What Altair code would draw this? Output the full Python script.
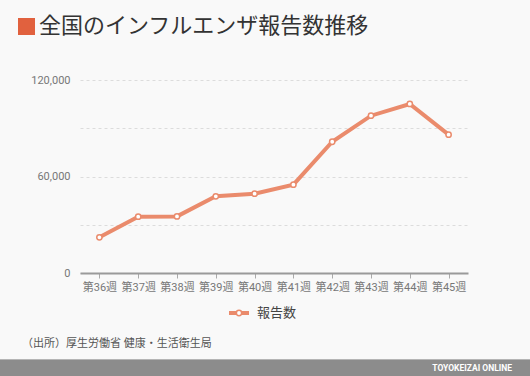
import altair as alt
import pandas as pd

weeks = ["第36週", "第37週", "第38週", "第39週", "第40週", "第41週", "第42週", "第43週", "第44週", "第45週"]
reports = [22200, 35000, 35200, 47700, 49300, 54900, 81600, 97800, 105100, 86000]
series_name = "報告数"
title_text = "全国のインフルエンザ報告数推移"
source_text = "（出所）厚生労働省 健康・生活衛生局"
brand_text = "TOYOKEIZAI ONLINE"
y_ticks = [0, 30000, 60000, 90000, 120000]

df = pd.DataFrame({"week": weeks, "value": reports})

FONT = "Roboto, Noto Sans CJK JP, sans-serif"
LINE = "#EA8B6C"
ACCENT = "#E1613E"

x_enc = alt.X("week:N", sort=weeks, title=None,
              scale=alt.Scale(paddingInner=0, paddingOuter=0.5),
              axis=alt.Axis(labelAngle=0, labelFontSize=11, labelColor="#777",
                            labelFont=FONT, domainColor="#9a9a9a", domainWidth=2,
                            tickColor="#aaa", tickSize=5, labelPadding=3,
                            grid=False))
y_enc = alt.Y("value:Q", title=None,
              scale=alt.Scale(domain=[0, 120000], nice=False),
              axis=alt.Axis(values=y_ticks,
                            labelExpr="datum.value % 60000 == 0 ? format(datum.value, ',') : ''",
                            labelFontSize=11, labelColor="#777", labelFont=FONT,
                            domain=False, ticks=False, labelPadding=10,
                            gridColor="#dcdcdc", gridDash=[3, 3], gridWidth=1))

base = alt.Chart(df)
line = base.mark_line(color=LINE, strokeWidth=4).encode(x=x_enc, y=y_enc)
pts = base.mark_point(shape="circle", filled=True, fill="white", stroke=LINE,
                      strokeWidth=1.5, size=28, opacity=1).encode(x=x_enc, y=y_enc)

ann = alt.Chart(pd.DataFrame({"a": [0]}))
sq = ann.mark_rect(color=ACCENT).encode(x=alt.value(-62), x2=alt.value(-45),
                                        y=alt.value(-62), y2=alt.value(-45))
title = ann.mark_text(text=title_text, fontSize=22, font=FONT, color="#333",
                      align="left", baseline="alphabetic").encode(
    x=alt.value(-41), y=alt.value(-47))
leg_line = ann.mark_rule(color=LINE, strokeWidth=4).encode(
    x=alt.value(149), x2=alt.value(169), y=alt.value(233))
leg_pt = ann.mark_point(shape="circle", filled=True, fill="white", stroke=LINE,
                        strokeWidth=1.5, size=28, opacity=1).encode(
    x=alt.value(159), y=alt.value(233))
leg_txt = ann.mark_text(text=series_name, fontSize=13, font=FONT, color="#444",
                        align="left", baseline="middle").encode(
    x=alt.value(177), y=alt.value(233))
src = ann.mark_text(text=source_text, fontSize=11, font=FONT, color="#555",
                    align="left", baseline="middle").encode(
    x=alt.value(-58), y=alt.value(264))
bar = ann.mark_rect(color="#8c8c8c").encode(x=alt.value(-80), x2=alt.value(450),
                                            y=alt.value(279), y2=alt.value(296))
bar_line = ann.mark_rule(color="#b5b5b5", strokeWidth=1).encode(
    x=alt.value(-80), x2=alt.value(450), y=alt.value(279.5))
brand = ann.mark_text(text=brand_text, fontSize=8.5, font=FONT, fontWeight="bold",
                      color="white", align="right", baseline="middle").encode(
    x=alt.value(432), y=alt.value(287.5))

chart = alt.layer(line, pts, sq, title, leg_line, leg_pt, leg_txt, src, bar, bar_line, brand).properties(
    width=388, height=193,
    autosize=alt.AutoSizeParams(type="none"),
    padding={"left": 80, "top": 80, "right": 62, "bottom": 103},
    background="#f9f9f9",
).configure_view(stroke=None)

chart.save("out.html", embed_options={"renderer": "svg", "actions": False})
